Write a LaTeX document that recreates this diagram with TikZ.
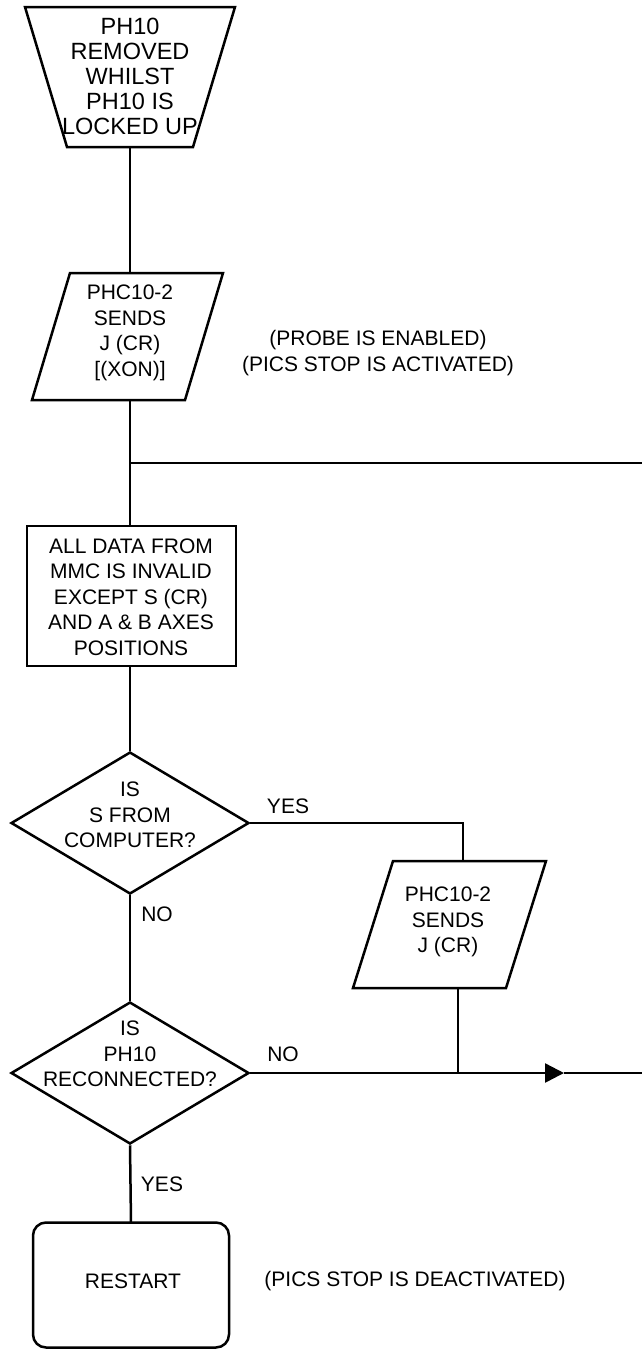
\documentclass[tikz,border=0pt]{standalone}
\usepackage{fontspec}
\setmainfont{Liberation Sans}
\usetikzlibrary{shapes.geometric,arrows.meta,calc}
\tikzset{
  txt/.style={font=\fontsize{21}{25.5}\selectfont, align=center, inner sep=0pt},
  bigtxt/.style={font=\fontsize{23.5}{25}\selectfont, align=center, inner sep=0pt},
  box/.style={inner sep=0pt, outer sep=0pt},
  ln/.style={line width=2.5pt},
  dec/.style={diamond, draw, line width=2.5pt, inner sep=0pt, minimum width=238pt, minimum height=142pt},
}
\begin{document}
\begin{tikzpicture}[x=1pt,y=-1pt]
\useasboundingbox (0,0) rectangle (642,1349);
% terminal trapezoid
\node[box, minimum width=210pt, minimum height=140pt] (t1) at (130,77) {};
\draw[ln, line join=miter] (t1.north west) -- (t1.north east) -- ([xshift=-42pt]t1.south east) -- ([xshift=42pt]t1.south west) -- cycle;
\node[bigtxt] (t1t) at (130,76) {PH10\\REMOVED\\WHILST\\PH10 IS\\LOCKED UP};
% parallelogram 1
\node[box, minimum width=191pt, minimum height=127pt] (p1) at (127.5,336.5) {};
\draw[ln] ([xshift=38pt]p1.north west) -- (p1.north east) -- ([xshift=-38pt]p1.south east) -- (p1.south west) -- cycle;
\node[txt] (p1t) at (130,333) {PHC10-2\\SENDS\\J (CR)\\{[(XON)]}};
\node[txt] (n1) at (378,353) {(PROBE IS ENABLED)\\(PICS STOP IS ACTIVATED)};
% rectangle
\node[box, draw, line width=2.5pt, minimum width=209pt, minimum height=140pt] (r1) at (131.5,596) {};
\node[txt] (r1t) at (131,597) {ALL DATA FROM\\MMC IS INVALID\\EXCEPT S (CR)\\AND A \& B AXES\\POSITIONS};
% decision 1
\node[dec] (d1) at (130,823) {};
\node[txt] (d1t) at (130,815) {IS\\S FROM\\COMPUTER?};
\node[txt] (yes1) at (288,806) {YES};
\node[txt] (no1) at (157,914) {NO};
% parallelogram 2
\node[box, minimum width=193pt, minimum height=127pt] (p2) at (449.5,924.5) {};
\draw[ln] ([xshift=40pt]p2.north west) -- (p2.north east) -- ([xshift=-40pt]p2.south east) -- (p2.south west) -- cycle;
\node[txt] (p2t) at (448,922) {PHC10-2\\SENDS\\J (CR)};
% decision 2
\node[dec] (d2) at (130,1073) {};
\node[txt] (d2t) at (130,1054) {IS\\PH10\\RECONNECTED?};
\node[txt] (no2) at (283,1054) {NO};
\node[txt] (yes2) at (162,1184) {YES};
% restart
\node[box, draw, line width=2.5pt, rounded corners=13pt, minimum width=196pt, minimum height=125pt] (rs) at (131,1285) {};
\node[txt] (rst) at (133,1281) {RESTART};
\node[txt] (n2) at (415,1281) {(PICS STOP IS DEACTIVATED)};
% coordinates
\coordinate (j1) at (130,463);
\coordinate (e1) at (642,463);
\coordinate (c1) at (463,823);
\coordinate (c2) at (458,1073);
\coordinate (a2) at (564,1073);
\coordinate (e2) at (642,1073);
% connectors
\draw[ln] (t1.south) -- (t1.south |- p1.north);
\draw[ln] (j1 |- p1.south) -- (j1) -- (j1 |- r1.north);
\draw[ln] (j1) -- (e1);
\draw[ln] (j1 |- r1.south) -- (d1.north);
\draw[ln] (d1.east) -- (c1) -- (c1 |- p2.north);
\draw[ln] (d1.south) -- (d2.north);
\draw[ln] (c2 |- p2.south) -- (c2);
\draw[ln, -{Triangle[length=19pt,width=19pt]}] (d2.east) -- (a2);
\draw[ln] (a2) -- (e2);
\draw[ln] (d2.south) -- (rs.north);
\end{tikzpicture}
\end{document}
